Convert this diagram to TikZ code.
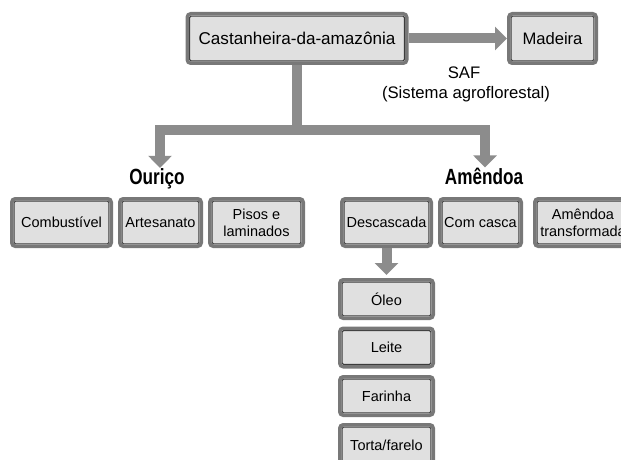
\documentclass[tikz,border=0pt]{standalone}
\usepackage{fontspec}
\setmainfont{Liberation Sans}
\newfontfamily\condbold{Liberation Sans Bold}[FakeStretch=0.78]
\usetikzlibrary{arrows.meta}
\definecolor{bordergray}{RGB}{120,120,120}
\definecolor{innerline}{RGB}{60,60,60}
\definecolor{boxfill}{RGB}{224,224,224}
\definecolor{arrowgray}{RGB}{140,140,140}
\tikzset{
  box/.style={draw=bordergray, line width=3.5pt, fill=boxfill, rounded corners=3.5pt,
    inner sep=0pt, align=center, font=\fontsize{14.5}{17}\selectfont,
    path picture={\draw[draw=innerline, fill=none, line width=1pt, rounded corners=1.5pt]
      ([shift={(2.3pt,2.3pt)}]path picture bounding box.south west) rectangle
      ([shift={(-2.3pt,-2.3pt)}]path picture bounding box.north east);}},
  flow/.style={draw=arrowgray, line width=10pt},
  tip/.style={-{Triangle[width=23pt,length=12pt]}},
  head/.style={font=\condbold\fontsize{22}{24}\selectfont, inner sep=0pt},
  note/.style={font=\fontsize{16.7}{19}\selectfont, inner sep=0pt}
}
\begin{document}
\begin{tikzpicture}[x=1pt,y=-1pt]
\useasboundingbox (0,0) rectangle (621,460);
\clip (0,0) rectangle (621,460);
\fill[white] (0,0) rectangle (621,460);
% top
\node[box, minimum width=219.5pt, minimum height=49.5pt, font=\fontsize{17.1}{20}\selectfont] (cast) at (297,38.5) {Castanheira-da-amazônia};
\node[box, minimum width=87.5pt, minimum height=49.5pt, font=\fontsize{16.6}{20}\selectfont] (mad) at (552.5,38.5) {Madeira};
\node[note, anchor=base] (saf) at (464,78) {SAF};
\node[note, anchor=base] (safl) at (466,99) {(Sistema agroflorestal)};
% headings
\node[head, anchor=base] (ourico) at (157,184) {Ouriço};
\node[head, anchor=base] (amendoa) at (484,184) {Amêndoa};
% row
\node[box, minimum width=99.5pt, minimum height=47.5pt] (comb) at (61.5,222.5) {Combustível};
\node[box, minimum width=81.5pt, minimum height=47.5pt] (art) at (160.5,222.5) {Artesanato};
\node[box, minimum width=93.5pt, minimum height=47.5pt] (pisos) at (256.5,222.5) {Pisos e\\laminados};
\node[box, minimum width=89.5pt, minimum height=47.5pt] (desc) at (386.5,222.5) {Descascada};
\node[box, minimum width=81.5pt, minimum height=47.5pt] (comc) at (480.5,222.5) {Com casca};
\node[box, minimum width=96.5pt, minimum height=47.5pt] (transf) at (583,222.5) {Amêndoa\\transformada};
% column
\node[box, minimum width=93.5pt, minimum height=38.5pt] (oleo) at (386.5,299) {Óleo};
\node[box, minimum width=93.5pt, minimum height=38.5pt] (leite) at (386.5,347.5) {Leite};
\node[box, minimum width=93.5pt, minimum height=38.5pt] (farinha) at (386.5,396) {Farinha};
\node[box, minimum width=93.5pt, minimum height=40.5pt] (torta) at (386.5,445) {Torta/farelo};
% connectors
\coordinate (j) at (297,130);
\coordinate (jl) at (160,130);
\coordinate (jr) at (485,130);
\draw[flow, tip] (cast.east) -- (mad.west);
\draw[flow] (cast.south) -- (j);
\draw[flow, tip] (j) -- (jl) -- (jl |- ourico.north);
\draw[flow, tip] (j) -- (jr) -- (jr |- amendoa.north);
\draw[flow, tip, shorten >=3pt] (desc.south) -- (oleo.north);
\end{tikzpicture}
\end{document}
